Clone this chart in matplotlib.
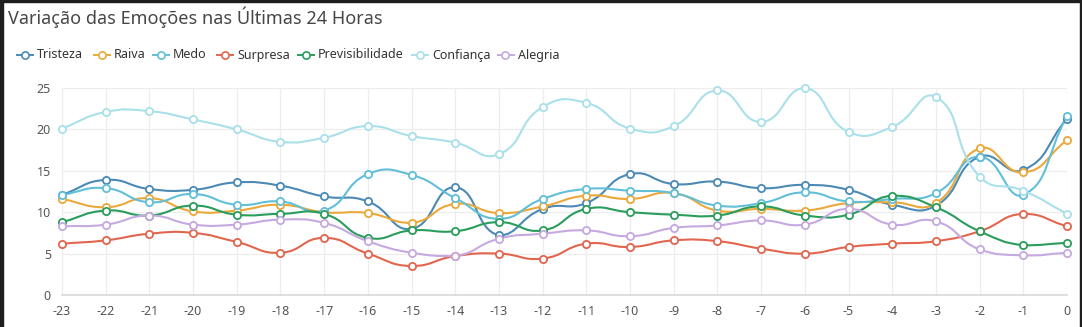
"""Emotion variation over the last 24 hours, smoothed line chart."""

import matplotlib
matplotlib.use("Agg")
import matplotlib.pyplot as plt
import numpy as np
from matplotlib.lines import Line2D
from matplotlib.patches import PathPatch, Rectangle
from matplotlib.path import Path

plt.rcParams["font.family"] = ["Noto Sans", "DejaVu Sans"]

TITLE = "Variação das Emoções nas Últimas 24 Horas"
hours = list(range(-23, 1))

tristeza = [12.1, 13.9, 12.8, 12.7, 13.6, 13.2, 11.9, 11.3, 8.0, 13.0, 7.2, 10.4,
            11.1, 14.6, 13.4, 13.7, 12.9, 13.3, 12.7, 10.9, 10.8, 16.7, 15.1, 21.3]
raiva = [11.6, 10.6, 11.7, 10.1, 10.2, 10.9, 10.0, 9.9, 8.7, 11.0, 9.9, 10.7,
         12.0, 11.6, 12.3, 10.2, 10.4, 10.2, 11.1, 11.2, 11.1, 17.7, 14.8, 18.7]
medo = [12.1, 12.9, 11.2, 12.2, 10.9, 11.3, 10.2, 14.6, 14.5, 11.7, 9.2, 11.6,
        12.8, 12.6, 12.3, 10.8, 11.1, 12.4, 11.3, 11.6, 12.3, 16.7, 12.1, 21.6]
surpresa = [6.2, 6.6, 7.4, 7.5, 6.4, 5.1, 6.9, 5.0, 3.5, 4.7, 5.0, 4.4,
            6.2, 5.8, 6.6, 6.5, 5.6, 5.0, 5.8, 6.2, 6.5, 7.7, 9.8, 8.3]
previsibilidade = [8.8, 10.2, 9.6, 10.8, 9.7, 9.8, 9.8, 6.9, 7.8, 7.7, 8.8, 7.8,
                   10.4, 10.0, 9.7, 9.6, 10.7, 9.6, 9.7, 12.0, 10.6, 7.7, 6.0, 6.3]
confianca = [20.1, 22.1, 22.2, 21.2, 20.0, 18.5, 19.0, 20.4, 19.2, 18.4, 17.0, 22.7,
             23.2, 20.1, 20.4, 24.7, 20.9, 25.0, 19.7, 20.3, 23.9, 14.3, 12.6, 9.8]
alegria = [8.3, 8.5, 9.6, 8.5, 8.5, 9.1, 8.7, 6.5, 5.1, 4.7, 6.8, 7.4,
           7.8, 7.1, 8.1, 8.4, 9.0, 8.5, 10.4, 8.5, 8.9, 5.5, 4.8, 5.1]

series_names = ["Tristeza", "Raiva", "Medo", "Surpresa",
                "Previsibilidade", "Confiança", "Alegria"]
series_values = [tristeza, raiva, medo, surpresa,
                 previsibilidade, confianca, alegria]
colors = ["#4a8ab5", "#eaa93a", "#62bfd8", "#e2664e",
          "#2a9d5c", "#a9e0ea", "#c6a9e0"]

y_ticks = [0, 5, 10, 15, 20, 25]

# figure geometry in pixels
W, H = 1082, 327
AX_L, AX_R, AX_T, AX_B = 62, 1067, 88, 295


def smooth_path(xs, ys, sx, sy, smooth=0.5):
    """Cubic bezier through the points, control points from neighbours
    (pixel units), kept inside the bounding box of the series."""
    p = np.column_stack([np.asarray(xs, float) * sx, np.asarray(ys, float) * sy])
    lo, hi = p.min(axis=0), p.max(axis=0)
    n = len(p)
    cps = []
    for i in range(n):
        prev = p[i - 1] if i > 0 else p[i]
        nxt = p[i + 1] if i < n - 1 else p[i]
        v = (nxt - prev) * smooth
        d0 = np.hypot(*(p[i] - prev))
        d1 = np.hypot(*(p[i] - nxt))
        s = d0 + d1
        if s:
            d0, d1 = d0 / s, d1 / s
        c0 = np.clip(p[i] - v * d0, lo, hi)
        c1 = np.clip(p[i] + v * d1, lo, hi)
        cps.append((c0, c1))
    verts = [p[0]]
    codes = [Path.MOVETO]
    for i in range(n - 1):
        verts += [cps[i][1], cps[i + 1][0], p[i + 1]]
        codes += [Path.CURVE4] * 3
    verts = np.array(verts) / [sx, sy]
    return Path(verts, codes)


fig = plt.figure(figsize=(W / 100, H / 100), dpi=100)
ax = fig.add_axes([AX_L / W, 1 - AX_B / H, (AX_R - AX_L) / W, (AX_B - AX_T) / H])
ax.set_xlim(hours[0], hours[-1])
ax.set_ylim(y_ticks[0], y_ticks[-1])

sx = (AX_R - AX_L) / (hours[-1] - hours[0])
sy = (AX_B - AX_T) / (y_ticks[-1] - y_ticks[0])

for vals, col in zip(series_values, colors):
    path = smooth_path(hours, vals, sx, sy)
    ax.add_patch(PathPatch(path, facecolor="none", edgecolor=col, lw=1.5,
                           clip_on=False, zorder=3, capstyle="round", joinstyle="round"))
    ax.plot(hours, vals, "o", ms=5.2, mfc="white", mec=col, mew=1.3,
            clip_on=False, zorder=4)

ax.set_xticks(hours)
ax.set_xticklabels([str(h) for h in hours])
ax.set_yticks(y_ticks)
ax.grid(True, color="#ededed", lw=0.9)
ax.set_axisbelow(True)
for side in ["top", "right", "left"]:
    ax.spines[side].set_visible(False)
ax.spines["bottom"].set_color("#d9d9d9")
ax.spines["bottom"].set_linewidth(1.2)
ax.tick_params(length=0, labelsize=9, colors="#555555")
ax.tick_params(axis="x", pad=7)
ax.tick_params(axis="y", pad=8)

fig.text(8 / W, 1 - 17 / H, TITLE, fontsize=13, color="#474747",
         ha="left", va="center")

# legend drawn by hand along one row
legend_text_x = [37, 114, 173, 237, 318, 432, 518]
ly = 1 - 55 / H
for name, col, tx in zip(series_names, colors, legend_text_x):
    cx = tx - 12.5
    fig.add_artist(Line2D([(cx - 8) / W, (cx + 8) / W], [ly, ly], color=col, lw=1.4,
                          transform=fig.transFigure))
    fig.add_artist(Line2D([cx / W], [ly], marker="o", ms=5.2, mfc="white", mec=col,
                          mew=1.2, transform=fig.transFigure))
    fig.text(tx / W, ly, name, fontsize=9, color="#333333", ha="left", va="center")

# dark frame around the panel
frame_col = "#1e1e1e"
fig.add_artist(Rectangle((0, 0), 3 / W, 1, transform=fig.transFigure, color=frame_col))
fig.add_artist(Rectangle((0, 1 - 2 / H), 1, 2 / H, transform=fig.transFigure, color=frame_col))
fig.add_artist(Rectangle((1 - 2 / W, 0), 2 / W, 1, transform=fig.transFigure, color=frame_col))

fig.savefig("out.png", dpi=100)
plt.close(fig)
